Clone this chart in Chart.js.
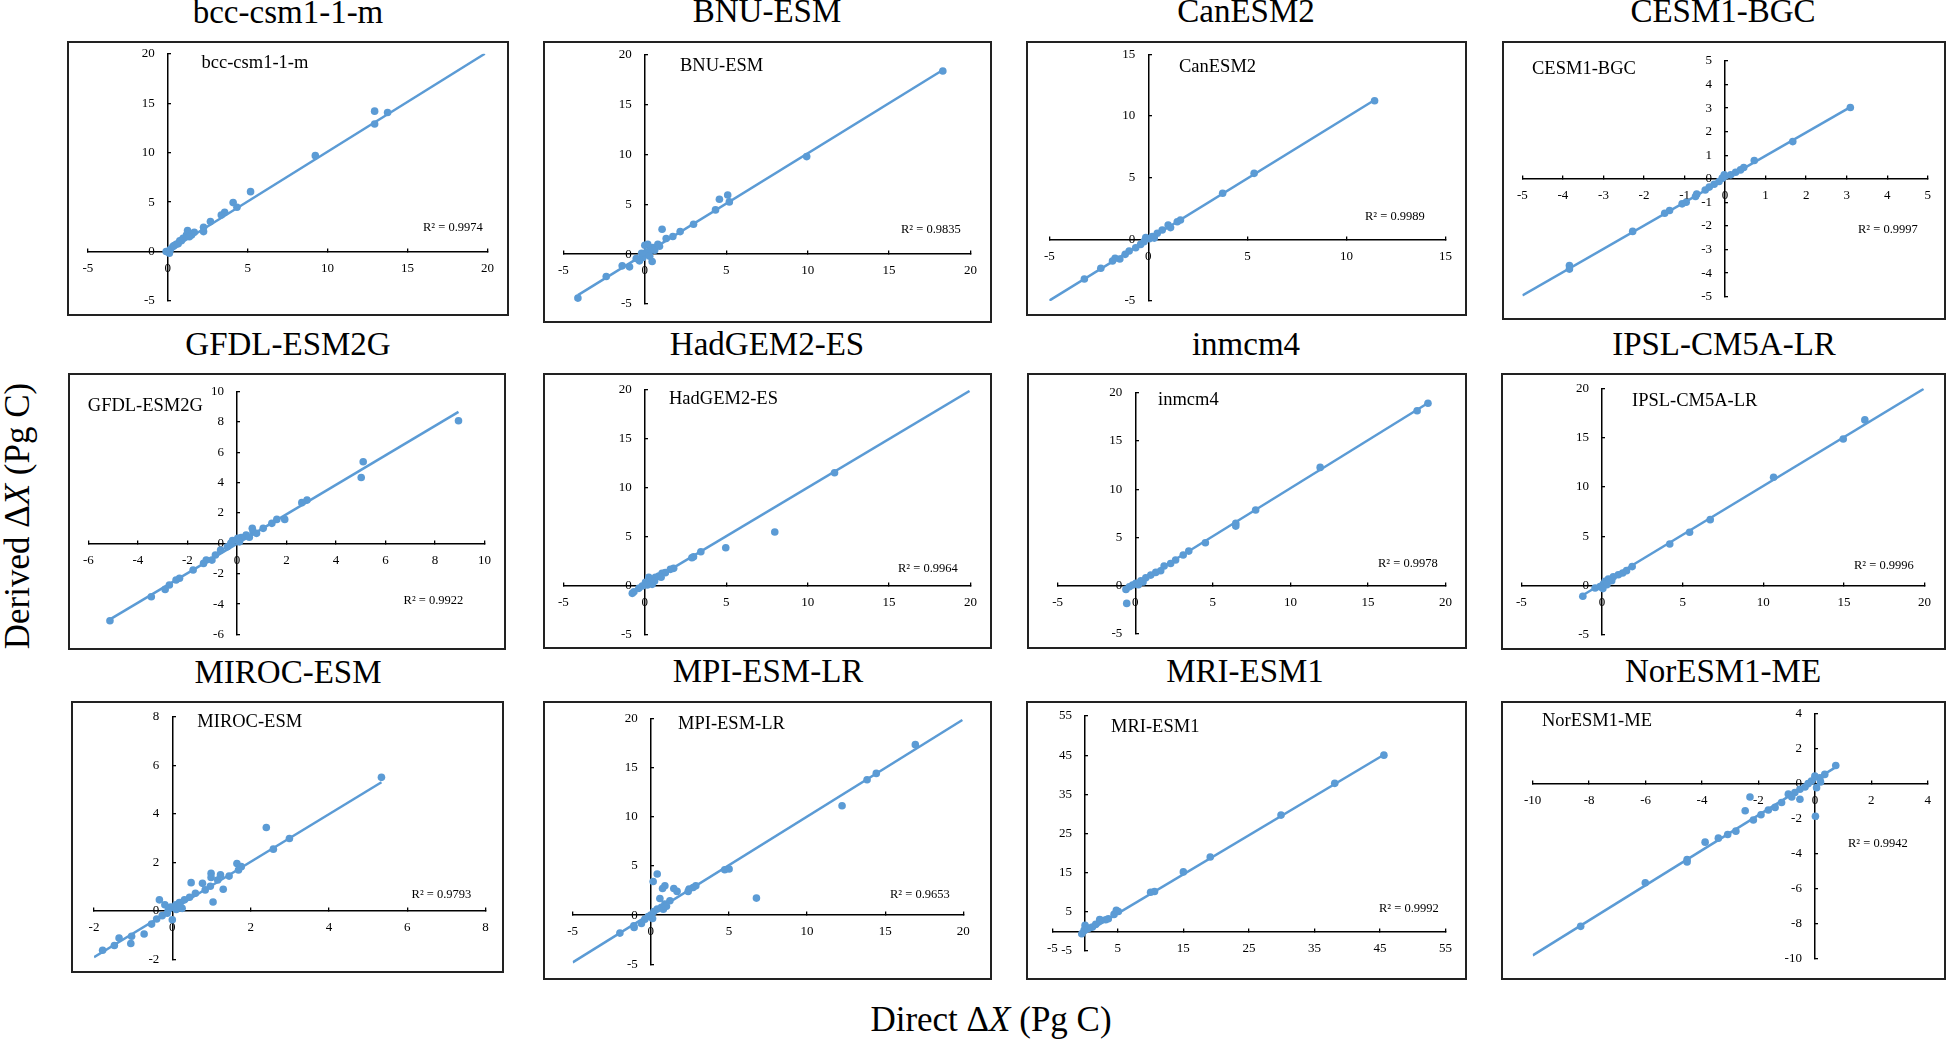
<!DOCTYPE html>
<html lang="en">
<head>
<meta charset="UTF-8">
<title>Derived vs Direct ΔX</title>
<script src="https://cdn.jsdelivr.net/npm/chart.js@4.4.1/dist/chart.umd.min.js"></script>
<style>
  body { margin: 0; background: #fff; font-family: "Liberation Serif", "Times New Roman", serif; }
  #page { position: relative; width: 1946px; height: 1040px; overflow: hidden; background: #fff; }
  .panel { position: absolute; border: 2px solid #222; box-sizing: border-box; background: #fff; }
  .panel .holder { position: absolute; left: 0; top: 0; right: 0; bottom: 0; }
  .txt { position: absolute; white-space: nowrap; line-height: 1; color: #000; }
</style>
</head>
<body>
<div id="page"></div>
<script>
// ---- data ----
const models = ['bcc-csm1-1-m', 'BNU-ESM', 'CanESM2', 'CESM1-BGC',
                'GFDL-ESM2G', 'HadGEM2-ES', 'inmcm4', 'IPSL-CM5A-LR',
                'MIROC-ESM', 'MPI-ESM-LR', 'MRI-ESM1', 'NorESM1-ME'];
const r2Values = ['0.9974', '0.9835', '0.9989', '0.9997',
                  '0.9922', '0.9964', '0.9978', '0.9996',
                  '0.9793', '0.9653', '0.9992', '0.9942'];
const xRanges = [[-5, 20], [-5, 20], [-5, 15], [-5, 5], [-6, 10], [-5, 20],
                 [-5, 20], [-5, 20], [-2, 8], [-5, 20], [-5, 55], [-10, 4]];
const yRanges = [[-5, 20], [-5, 20], [-5, 15], [-5, 5], [-6, 10], [-5, 20],
                 [-5, 20], [-5, 20], [-2, 8], [-5, 20], [-5, 55], [-10, 4]];
const tickSteps = [5, 5, 5, 1, 2, 5, 5, 5, 2, 5, 10, 2];

// trend line end points [x, y]
const fitLines = [
  [[-0.2, -0.17], [19.83, 20.0]],
  [[-4.11, -4.11], [18.3, 18.5]],
  [[-5.0, -4.97], [11.42, 11.3]],
  [[-5.0, -4.95], [3.09, 3.04]],
  [[-5.13, -5.0], [8.95, 8.66]],
  [[-0.88, -0.75], [19.94, 19.9]],
  [[-0.7, -0.55], [18.9, 18.96]],
  [[-1.4, -1.18], [19.94, 19.93]],
  [[-2.0, -1.91], [5.34, 5.3]],
  [[-5.0, -4.81], [19.94, 19.83]],
  [[-0.81, -1.19], [45.6, 45.1]],
  [[-10.0, -9.83], [0.74, 0.95]]
];

const bccPts = [[12.94, 14.2], [12.94, 12.9], [13.75, 14.07], [9.23, 9.7], [5.18, 6.06], [4.09, 4.95],
  [4.33, 4.48], [3.56, 3.97], [3.35, 3.7], [2.67, 3.03], [2.24, 2.46], [2.24, 2.02], [1.66, 1.95],
  [1.24, 2.12], [1.17, 1.68], [1.49, 1.68], [0.96, 1.35], [0.75, 1.08], [0.53, 0.74], [0.32, 0.5],
  [0.17, 0.24], [0, 0], [-0.1, 0], [0.1, -0.17], [0.4, 0.6], [0.65, 0.8], [0.85, 1.1], [1.35, 1.5]];
const bnuPts = [[18.3, 18.4], [9.94, 9.8], [5.09, 5.95], [4.58, 5.52], [5.19, 5.25], [4.34, 4.45],
  [2.99, 3.01], [2.17, 2.27], [1.72, 1.77], [1.31, 1.57], [1.06, 2.51], [0.8, 1.0], [0.49, 0.67],
  [0.18, 1.0], [0, 0.9], [0.29, 0.33], [-0.12, -0.33], [-0.33, -0.67], [0.45, -0.74], [-0.53, -0.43],
  [-0.94, -1.27], [-1.39, -1.17], [-2.37, -2.24], [-4.11, -4.41], [0.1, 0.2], [0.6, 0.4], [0.9, 0.8],
  [0.3, -0.2], [-0.2, 0.1]];
const canPts = [[11.42, 11.24], [5.34, 5.35], [3.75, 3.73], [1.62, 1.57], [1.46, 1.43], [1.12, 0.95],
  [1.0, 1.16], [0.7, 0.76], [0.45, 0.49], [0.2, 0.22], [-0.13, 0.14], [-0.22, -0.19], [-0.39, -0.41],
  [-0.64, -0.68], [-0.97, -0.95], [-1.17, -1.22], [-1.44, -1.59], [-1.68, -1.54], [-1.81, -1.76],
  [-2.4, -2.35], [-3.23, -3.22], [0.05, 0.05], [0.3, 0.1]];
const cesmPts = [[3.09, 3.03], [1.67, 1.58], [0.72, 0.78], [0.46, 0.48], [0.38, 0.38], [0.26, 0.28],
  [0.14, 0.17], [-0.02, 0.17], [-0.07, 0.03], [-0.15, -0.11], [-0.27, -0.23], [-0.39, -0.35],
  [-0.49, -0.47], [-0.7, -0.65], [-0.73, -0.75], [-0.96, -0.99], [-1.06, -1.06], [-1.37, -1.34],
  [-1.49, -1.46], [-2.28, -2.23], [-3.84, -3.68], [-3.84, -3.83]];
const gfdlPts = [[8.95, 8.07], [5.1, 5.37], [5.02, 4.34], [2.83, 2.85], [2.62, 2.68], [1.93, 1.58],
  [1.61, 1.58], [1.41, 1.32], [1.06, 0.99], [0.65, 0.77], [0.62, 0.99], [0.79, 0.66], [0.37, 0.55],
  [0.17, 0.39], [0.03, 0.33], [-0.18, 0.18], [-0.25, 0], [-0.39, -0.22], [-0.66, -0.44], [-0.87, -0.77],
  [-1.01, -1.1], [-1.24, -1.1], [-1.35, -1.32], [-1.77, -1.75], [-2.32, -2.3], [-2.46, -2.41],
  [-2.73, -2.74], [-2.9, -3.03], [-3.46, -3.51], [-5.13, -5.09], [0.1, 0.1], [0.5, 0.4]];
const hadPts = [[11.65, 11.56], [7.98, 5.51], [4.97, 3.91], [3.44, 3.5], [2.99, 2.99], [2.89, 2.89],
  [1.77, 1.8], [1.57, 1.7], [1.26, 1.36], [1.06, 1.29], [0.86, 1.02], [0.65, 0.88], [0.24, 0.88],
  [0.35, 0.54], [0.45, 0.17], [0.04, 0.37], [-0.16, 0], [-0.37, -0.24], [-0.67, -0.58], [-0.77, -0.75],
  [0.15, 0.1], [0.6, 0.5], [1.0, 0.9]];
const inmPts = [[18.87, 18.9], [18.17, 18.13], [11.92, 12.26], [7.76, 7.84], [6.48, 6.46], [6.48, 6.18],
  [4.52, 4.46], [3.45, 3.59], [3.09, 3.18], [2.6, 2.66], [2.28, 2.31], [1.86, 2.04], [1.64, 1.55],
  [1.32, 1.38], [1.0, 1.1], [0.68, 0.83], [0.36, 0.52], [0.04, 0.24], [-0.17, 0.07], [-0.38, -0.1],
  [-0.6, -0.38], [-0.55, -1.83], [0.2, 0.1], [0.5, 0.4]];
const ipslPts = [[16.3, 16.8], [14.96, 14.86], [10.64, 10.98], [6.71, 6.69], [5.43, 5.41], [4.2, 4.22],
  [1.87, 1.93], [1.52, 1.52], [1.28, 1.28], [1.01, 1.11], [0.7, 0.91], [0.39, 0.68], [0.19, 0.44],
  [0.08, 0.17], [-0.12, -0.1], [-0.43, -0.24], [-1.19, -1.08], [0.3, 0.1], [0.6, 0.5], [0.05, -0.3]];
const mirocPts = [[5.34, 5.5], [2.4, 3.43], [2.99, 2.98], [2.58, 2.54], [1.65, 1.95], [1.76, 1.82],
  [1.69, 1.68], [1.45, 1.43], [1.23, 1.48], [1.16, 1.27], [1.3, 0.89], [0.99, 1.54], [0.99, 1.37],
  [1.04, 0.36], [0.77, 1.13], [0.84, 0.86], [0.48, 1.16], [0.97, 1.01], [0.59, 0.72], [0.44, 0.56],
  [0.31, 0.45], [0.18, 0.34], [0.09, 0.25], [-0.04, 0.15], [-0.19, 0.25], [-0.33, 0.45], [-0.13, -0.1],
  [-0.26, -0.2], [-0.4, -0.34], [-0.53, -0.55], [0, -0.37], [-0.72, -0.96], [-1.04, -1.05],
  [-1.36, -1.12], [-1.48, -1.43], [-1.06, -1.35], [-1.78, -1.63], [0.1, 0.05], [0.25, 0.1],
  [-0.1, 0.05], [0.2, 0.2]];
const mpiPts = [[16.93, 17.32], [14.43, 14.4], [13.84, 13.76], [12.24, 11.12], [6.76, 1.73], [5.01, 4.68],
  [4.73, 4.61], [2.88, 2.98], [2.71, 2.81], [2.45, 2.64], [2.39, 2.41], [1.68, 2.41], [1.47, 2.71],
  [0.9, 2.98], [0.75, 2.71], [0.41, 4.17], [0.15, 3.42], [0.58, 1.69], [1.22, 1.46], [0.9, 1.12],
  [0.68, 0.78], [0.41, 0.61], [0.19, 0.37], [0, 0], [-0.17, -0.14], [0.11, -0.34], [-0.38, -0.41],
  [-0.6, -0.85], [-1.09, -1.08], [-1.07, -1.25], [-1.98, -1.83], [0.8, 0.6], [1.0, 0.9]];
const mriPts = [[45.6, 45.0], [38.1, 37.8], [29.9, 29.7], [19.1, 19.0], [15.0, 15.2], [10.6, 10.2],
  [10.0, 10.0], [5.08, 5.1], [4.77, 5.36], [4.42, 4.34], [3.55, 3.23], [3.15, 2.98], [2.39, 2.81],
  [2.23, 3.06], [1.62, 1.79], [1.12, 1.1], [0.61, 0.85], [0, 1.53], [-0.15, 0.26], [-0.5, -0.6]];
const norPts = [[0.74, 1.04], [0.35, 0.53], [0.18, 0.34], [0, 0.43], [-0.12, 0.15], [-0.24, 0],
  [-0.35, -0.19], [0.06, -0.23], [-0.53, -0.32], [-0.71, -0.51], [-0.94, -0.6], [-0.82, -0.76],
  [-0.53, -0.89], [-1.18, -1.08], [-1.41, -1.36], [-1.65, -1.51], [-1.91, -1.78], [-2.18, -2.08],
  [-2.3, -0.76], [-2.47, -1.55], [-2.8, -2.72], [-3.09, -2.91], [-3.42, -3.12], [-3.89, -3.35],
  [-4.53, -4.35], [-4.53, -4.48], [-6.01, -5.67], [-8.3, -8.17], [0.02, -1.87], [0.2, 0.1]];
const points = [bccPts, bnuPts, canPts, cesmPts, gfdlPts, hadPts, inmPts, ipslPts,
                mirocPts, mpiPts, mriPts, norPts];

// ---- layout (page pixels) ----
const frames = [ // left, top, right, bottom of the panel frame
  [67, 41, 509, 316], [543, 41, 992, 323], [1026, 41, 1467, 316], [1502, 41, 1946, 320],
  [68, 373, 506, 650], [543, 373, 992, 649], [1027, 373, 1467, 649], [1501, 373, 1946, 650],
  [71, 701, 504, 973], [543, 701, 992, 980], [1026, 701, 1467, 980], [1501, 701, 1946, 980]
];
const plotAreas = [ // pixel of x min, x max, y max, y min
  [87.8, 491.8, 53.3, 301], [563.3, 970.7, 55, 304], [1049.3, 1447.3, 54.3, 301], [1520.7, 1930, 61, 296.7],
  [86.8, 486.3, 391.5, 634.5], [561.7, 970.7, 390, 635], [1057.7, 1448.3, 392.7, 634], [1520.7, 1925.7, 388.3, 635],
  [94, 485.6, 716.7, 959.3], [572.7, 963.3, 718.3, 964.3], [1052.3, 1446, 716, 951], [1532.7, 1929, 711.7, 958.3]
];
const titleSpots = [[288, 23.3], [767, 23], [1246, 23], [1723, 23],
                    [288, 356], [767, 356], [1246, 356], [1724, 356],
                    [288, 683.3], [768, 683], [1245, 683], [1723, 683]];
const innerSpots = [[201.5, 68], [680, 71.7], [1179, 72.7], [1532, 74],
                    [87.8, 411], [669, 404], [1158, 405], [1632, 406],
                    [197.3, 727.7], [678, 729], [1111, 732], [1542, 726]];
const r2Spots = [[423, 231], [901, 233], [1365, 220], [1858, 233],
                 [403.6, 604], [898, 572], [1378, 567], [1854, 569],
                 [411.6, 898.3], [890, 898], [1379, 912], [1848, 847]];

const BLUE = '#5B9BD5';
const BORDER = 2;
const page = document.getElementById('page');

function addText(html, x, baseline, size, center) {
  const d = document.createElement('div');
  d.className = 'txt';
  d.innerHTML = html;
  d.style.fontSize = size + 'px';
  d.style.left = x + 'px';
  d.style.top = (baseline - 0.8375 * size) + 'px';
  if (center) d.style.transform = 'translateX(-50%)';
  page.appendChild(d);
  return d;
}

const tickFont = { family: 'Liberation Serif', size: 13 };

models.forEach((name, i) => {
  const [L, T, R, B] = frames[i];
  const [px0, px1, py0, py1] = plotAreas[i];
  const panel = document.createElement('div');
  panel.className = 'panel';
  panel.style.left = L + 'px';
  panel.style.top = T + 'px';
  panel.style.width = (R - L) + 'px';
  panel.style.height = (B - T) + 'px';
  const holder = document.createElement('div');
  holder.className = 'holder';
  const canvas = document.createElement('canvas');
  holder.appendChild(canvas);
  panel.appendChild(holder);
  page.appendChild(panel);

  // wanted chart area inside the canvas
  const want = {
    left: px0 - (L + BORDER), right: px1 - (L + BORDER),
    top: py0 - (T + BORDER), bottom: py1 - (T + BORDER)
  };
  const pad = {
    left: want.left,
    right: (R - L - 2 * BORDER) - want.right,
    top: want.top,
    bottom: (B - T - 2 * BORDER) - want.bottom
  };

  const chart = new Chart(canvas, {
    type: 'scatter',
    data: {
      datasets: [
        {
          data: points[i].map(p => ({ x: p[0], y: p[1] })),
          pointRadius: 3.8,
          pointHoverRadius: 3.8,
          pointBackgroundColor: BLUE,
          pointBorderWidth: 0
        },
        {
          data: fitLines[i].map(p => ({ x: p[0], y: p[1] })),
          showLine: true,
          borderColor: BLUE,
          borderWidth: 2.5,
          pointRadius: 0,
          fill: false
        }
      ]
    },
    options: {
      animation: false,
      responsive: true,
      maintainAspectRatio: false,
      layout: { padding: { ...pad } },
      plugins: { legend: { display: false }, tooltip: { enabled: false } },
      scales: {
        x: {
          type: 'linear',
          min: xRanges[i][0], max: xRanges[i][1],
          position: { y: 0 },
          ticks: { stepSize: tickSteps[i], font: tickFont, color: '#000', padding: 13,
                   maxRotation: 0, autoSkip: false },
          grid: { drawOnChartArea: false, drawTicks: true, tickLength: -4, color: '#000', lineWidth: 1.3 },
          border: { color: '#000', width: 1.5 }
        },
        y: {
          type: 'linear',
          min: yRanges[i][0], max: yRanges[i][1],
          position: { x: 0 },
          ticks: { stepSize: tickSteps[i], font: tickFont, color: '#000', autoSkip: false,
                   callback: v => v + '\u2002\u2002' },
          grid: { drawOnChartArea: false, drawTicks: true, tickLength: -4, color: '#000', lineWidth: 1.3 },
          border: { color: '#000', width: 1.5 }
        }
      }
    }
  });

  // axes placed on data values still reserve room; nudge padding until the
  // plot area sits where the reference has it
  for (let k = 0; k < 3; k++) {
    const ca = chart.chartArea;
    pad.left += want.left - ca.left;
    pad.top += want.top - ca.top;
    pad.right -= want.right - ca.right;
    pad.bottom -= want.bottom - ca.bottom;
    chart.options.layout.padding = { ...pad };
    chart.update();
  }

  addText(name, titleSpots[i][0], titleSpots[i][1], 33, true);
  addText(name, innerSpots[i][0], innerSpots[i][1], 18.5, false);
  addText('R² = ' + r2Values[i], r2Spots[i][0], r2Spots[i][1], 12.5, false);
});

// axis titles
addText('Direct Δ<i>X</i> (Pg C)', 991, 1031.7, 35, true);
const yTitle = addText('Derived Δ<i>X</i> (Pg C)', 0, 0, 35, false);
yTitle.style.left = '17px';
yTitle.style.top = '516px';
yTitle.style.transform = 'translate(-50%, -50%) rotate(-90deg)';
</script>
</body>
</html>
